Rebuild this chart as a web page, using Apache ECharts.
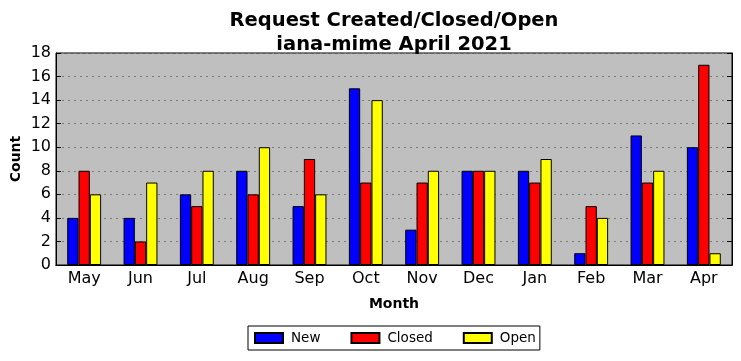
<!DOCTYPE html>
<html><head><meta charset="utf-8">
<script src="https://cdn.jsdelivr.net/npm/echarts@6/dist/echarts.min.js"></script>
<style>html,body{margin:0;padding:0;background:#fff}#c{width:741px;height:361px}</style>
</head><body><div id="c"></div>
<script>
const months = ['May','Jun','Jul','Aug','Sep','Oct','Nov','Dec','Jan','Feb','Mar','Apr'];
const newVals = [4,4,6,8,5,15,3,8,8,1,11,10];
const closedVals = [8,2,5,6,9,7,7,8,7,5,7,17];
const openVals = [6,7,8,10,6,14,8,8,9,4,8,1];
const yTicks = [0,2,4,6,8,10,12,14,16,18];

const font = 'DejaVu Sans';
const chart = echarts.init(document.getElementById('c'));
const barStyle = (c) => ({color: c, borderColor: '#000', borderWidth: 1});
chart.setOption({
  animation: false,
  textStyle: {fontFamily: font},
  title: {
    text: 'Request Created/Closed/Open\niana-mime April 2021',
    left: 389, textAlign: 'center', top: 4,
    textStyle: {fontFamily: font, fontSize: 19.5, fontWeight: 'bold', color: '#000', lineHeight: 24}
  },
  legend: {
    top: 326, left: 248,
    data: ['New','Closed','Open'],
    itemWidth: 28, itemHeight: 10, itemGap: 30,
    borderColor: '#000', borderWidth: 1, borderRadius: 0,
    padding: [5, 4, 5, 6],
    textStyle: {fontFamily: font, fontSize: 13.5, color: '#000', padding: [0,0,0,3]},
    icon: 'rect'
  },
  grid: {left: 56, right: 9, top: 53, bottom: 96, outerBoundsMode: 'none', containLabel: false,
    show: true, backgroundColor: '#bfbfbf', borderColor: '#000', borderWidth: 1},
  xAxis: [{
    type: 'category', data: months, position: 'bottom',
    name: 'Month', nameLocation: 'middle', nameGap: 32,
    nameTextStyle: {fontFamily: font, fontSize: 14, fontWeight: 'bold', color: '#000'},
    axisLine: {lineStyle: {color: '#000'}},
    axisTick: {inside: true, alignWithLabel: true, length: 5, lineStyle: {color: '#000'}},
    axisLabel: {fontFamily: font, fontSize: 16, color: '#000', margin: 6},
    splitLine: {show: false}
  }, {
    type: 'category', data: months, position: 'top',
    axisLine: {lineStyle: {color: '#000'}},
    axisTick: {inside: true, alignWithLabel: true, length: 5, lineStyle: {color: '#000'}},
    axisLabel: {show: false}, splitLine: {show: false}
  }],
  yAxis: [{
    type: 'value', min: 0, max: 18, interval: 2, position: 'left',
    name: 'Count', nameLocation: 'middle', nameGap: 33, nameRotate: 90, nameMoveOverlap: false,
    nameTextStyle: {fontFamily: font, fontSize: 14, fontWeight: 'bold', color: '#000'},
    axisLine: {show: true, lineStyle: {color: '#000'}},
    axisTick: {show: true, inside: true, length: 5, lineStyle: {color: '#000'}},
    axisLabel: {fontFamily: font, fontSize: 16, color: '#000', margin: 5,
      formatter: (v) => yTicks.includes(v) ? String(v) : ''},
    splitLine: {show: true, lineStyle: {color: '#7a7a7a', type: [2, 4], width: 1}}
  }, {
    type: 'value', min: 0, max: 18, interval: 2, position: 'right',
    axisLine: {show: true, lineStyle: {color: '#000'}},
    axisTick: {show: true, inside: true, length: 5, lineStyle: {color: '#000'}},
    axisLabel: {show: false}, splitLine: {show: false}
  }],
  series: [
    {name: 'New', type: 'bar', data: newVals, barWidth: 11.3, barGap: '0%', itemStyle: barStyle('#0000ff')},
    {name: 'Closed', type: 'bar', data: closedVals, barWidth: 11.3, barGap: '0%', itemStyle: barStyle('#ff0000')},
    {name: 'Open', type: 'bar', data: openVals, barWidth: 11.3, barGap: '0%', itemStyle: barStyle('#ffff00')}
  ]
});
</script></body></html>
